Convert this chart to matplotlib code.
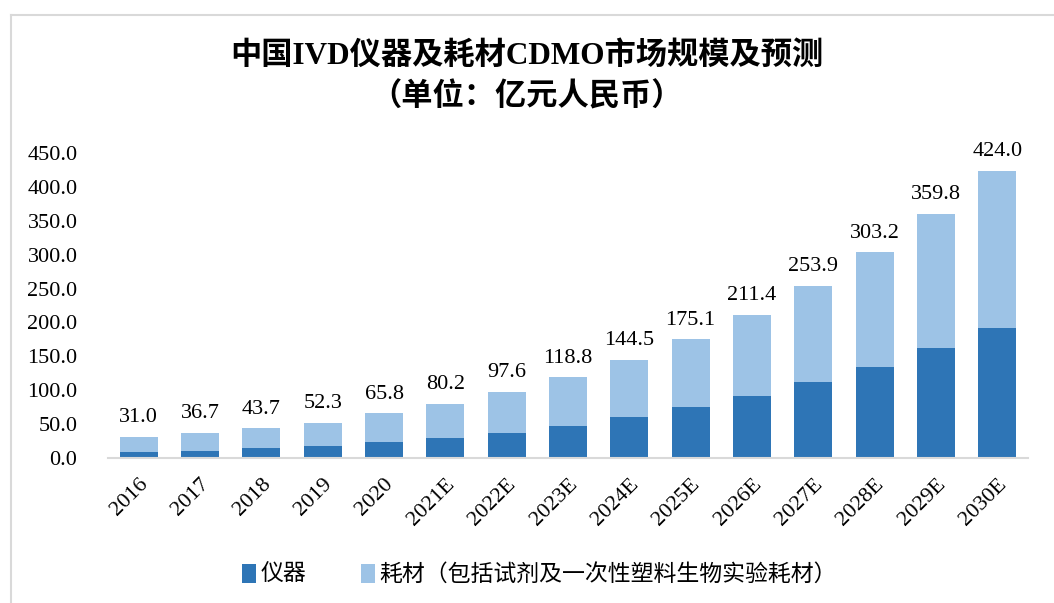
import matplotlib
matplotlib.use("Agg")
from matplotlib import pyplot as plt
from matplotlib.lines import Line2D
import numpy as np

years = ["2016", "2017", "2018", "2019", "2020", "2021E", "2022E", "2023E",
         "2024E", "2025E", "2026E", "2027E", "2028E", "2029E", "2030E"]
totals = [31.0, 36.7, 43.7, 52.3, 65.8, 80.2, 97.6, 118.8,
          144.5, 175.1, 211.4, 253.9, 303.2, 359.8, 424.0]
# instrument part
instrument = [8.5, 10.5, 14.3, 18.3, 23.5, 29.5, 37.3, 46.7,
              60.0, 75.0, 91.5, 112.5, 134.5, 163.0, 191.5]
consumable = [t - i for t, i in zip(totals, instrument)]

label_instr = "仪器"
label_cons = "耗材（包括试剂及一次性塑料生物实验耗材）"

fonts = ["Liberation Serif", "Noto Sans CJK SC", "DejaVu Sans"]
plt.rcParams["font.family"] = fonts

dark = "#2E75B6"
light = "#9DC3E6"

fig = plt.figure(figsize=(10.54, 6.03), dpi=100)
ax = fig.add_axes([108 / 1054, 1 - 458 / 603, 920 / 1054, 305 / 603])

x = np.arange(len(years))
w = 0.62
ax.bar(x, instrument, w, color=dark, label=label_instr)
ax.bar(x, consumable, w, bottom=instrument, color=light, label=label_cons)

for xi, t in zip(x, totals):
    ax.annotate(f"{t:.1f}", (xi, t), xytext=(0, 7), textcoords="offset points",
                ha="center", va="bottom", fontsize=16, color="black")

ax.set_xlim(-0.5, len(years) - 0.5)
ax.set_ylim(0, 450)
ax.set_yticks(np.arange(0, 451, 50))
ax.set_yticklabels([f"{v:.1f}" for v in np.arange(0, 451, 50)], fontsize=16)
ax.set_xticks(x)
ax.set_xticklabels(years, rotation=45, ha="right", rotation_mode="anchor", fontsize=16)
ax.tick_params(axis="both", length=0)
ax.tick_params(axis="y", pad=22)
ax.tick_params(axis="x", pad=12)
for s in ["top", "right", "left"]:
    ax.spines[s].set_visible(False)
ax.spines["bottom"].set_color("#D9D9D9")
ax.spines["bottom"].set_linewidth(1.5)

fig.text(0.5, 1 - 56 / 603, "中国IVD仪器及耗材CDMO市场规模及预测", ha="center", va="center",
         fontsize=22.5, fontweight="bold")
fig.text(0.5, 1 - 97 / 603, "（单位：亿元人民币）", ha="center", va="center",
         fontsize=22.5, fontweight="bold")

fig.legend(loc="center", bbox_to_anchor=(0.512, 1 - 575 / 603), ncol=2, frameon=False,
           handlelength=0.6, handleheight=0.9, handletextpad=0.2, columnspacing=2.4,
           prop={"family": fonts, "size": 16.5})

# frame lines of the original picture
fig.add_artist(Line2D([11 / 1054, 11 / 1054], [0, 1 - 15 / 603], color="#D9D9D9", lw=1.5))
fig.add_artist(Line2D([11 / 1054, 1], [1 - 15 / 603, 1 - 15 / 603], color="#D9D9D9", lw=1.5))

plt.savefig("out.png", dpi=100)
